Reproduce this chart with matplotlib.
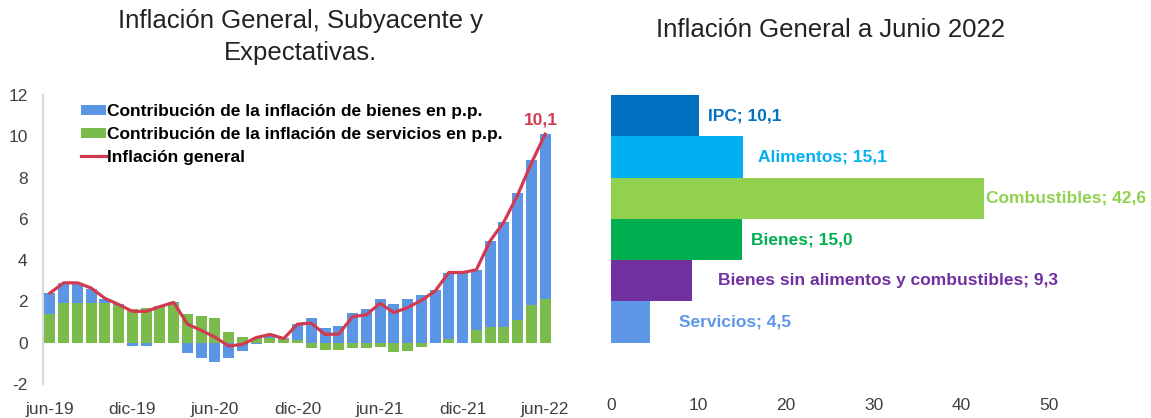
import numpy as np
import matplotlib.pyplot as plt

plt.rcParams['font.family'] = ['Liberation Sans', 'DejaVu Sans']
plt.rcParams['axes.unicode_minus'] = False

# Left chart: monthly contributions (p.p.) jun-19 .. jun-22
months = ['jun-19', 'jul-19', 'ago-19', 'sep-19', 'oct-19', 'nov-19', 'dic-19',
          'ene-20', 'feb-20', 'mar-20', 'abr-20', 'may-20', 'jun-20',
          'jul-20', 'ago-20', 'sep-20', 'oct-20', 'nov-20', 'dic-20',
          'ene-21', 'feb-21', 'mar-21', 'abr-21', 'may-21', 'jun-21',
          'jul-21', 'ago-21', 'sep-21', 'oct-21', 'nov-21', 'dic-21',
          'ene-22', 'feb-22', 'mar-22', 'abr-22', 'may-22', 'jun-22']
servicios = [1.38, 1.94, 1.94, 1.94, 1.91, 1.81, 1.65,
             1.70, 1.72, 1.91, 1.38, 1.31, 1.21,
             0.52, 0.30, 0.24, 0.24, 0.19, 0.13,
             -0.28, -0.36, -0.36, -0.24, -0.24, -0.21,
             -0.45, -0.40, -0.19, -0.03, 0.19, 0.00,
             0.61, 0.78, 0.78, 1.10, 1.81, 2.14]
bienes = [1.05, 0.97, 0.97, 0.68, 0.23, 0.05, -0.16,
          -0.16, 0.08, 0.06, -0.48, -0.73, -0.94,
          -0.73, -0.40, -0.08, 0.16, 0.02, 0.76,
          1.21, 0.73, 0.81, 1.46, 1.65, 2.10,
          1.86, 2.10, 2.30, 2.56, 3.21, 3.37,
          2.92, 4.15, 5.08, 6.15, 7.04, 7.96]
general = [2.40, 2.90, 2.90, 2.65, 2.15, 1.85, 1.52,
           1.52, 1.75, 1.95, 0.90, 0.60, 0.27,
           -0.16, -0.08, 0.25, 0.40, 0.20, 0.90,
           0.95, 0.40, 0.42, 1.26, 1.35, 1.91,
           1.46, 1.70, 2.05, 2.50, 3.40, 3.40,
           3.53, 4.93, 5.85, 7.15, 8.70, 10.1]
tick_months = ['jun-19', 'dic-19', 'jun-20', 'dic-20', 'jun-21', 'dic-21', 'jun-22']

# Right chart: June 2022 inflation by component
componentes = ['IPC', 'Alimentos', 'Combustibles', 'Bienes',
               'Bienes sin alimentos y combustibles', 'Servicios']
valores = [10.1, 15.1, 42.6, 15.0, 9.3, 4.5]
colores = ['#0070C0', '#00B0F0', '#92D050', '#00B050', '#7030A0', '#5E97E6']
label_dx = [1.0, 1.7, 0.2, 1.0, 2.9, 3.3]

c_blue = '#5B96E6'
c_green = '#7BBB4C'
c_red = '#D23A50'

fig = plt.figure(figsize=(11.51, 4.18), dpi=100)
W, H = 1151, 418

# ---- left chart
ax1 = fig.add_axes([43 / W, 34 / H, 509 / W, 289 / H])
x = np.arange(len(months))
serv = np.array(servicios)
bien = np.array(bienes)
bottom_b = np.where(np.sign(bien) == np.sign(serv), serv, 0)
b_serv = ax1.bar(x, serv, width=0.8, color=c_green, zorder=2)
b_bien = ax1.bar(x, bien, bottom=bottom_b, width=0.8, color=c_blue, zorder=2)
l_gen, = ax1.plot(x, general, color=c_red, lw=2.3, zorder=3)
ax1.annotate('10,1', (x[-1], general[-1]), xytext=(-3, 5), textcoords='offset points',
             ha='center', va='bottom', color=c_red, fontweight='bold', fontsize=12.5)

ax1.set_xlim(-0.5, len(months) - 0.5)
ax1.set_ylim(-2, 12)
ax1.set_yticks(range(-2, 13, 2))
ax1.set_xticks([months.index(m) for m in tick_months])
ax1.set_xticklabels(tick_months)
ax1.tick_params(axis='both', length=0, labelsize=12.5, colors='#404040')
ax1.tick_params(axis='y', pad=11)
ax1.tick_params(axis='x', pad=13)
for s in ['top', 'right', 'bottom']:
    ax1.spines[s].set_visible(False)
ax1.spines['left'].set_color('#d9d9d9')
ax1.spines['left'].set_linewidth(1.5)

ax1.legend([b_bien, b_serv, l_gen],
           ['Contribución de la inflación de bienes en p.p.',
            'Contribución de la inflación de servicios en p.p.',
            'Inflación general'],
           loc='upper left', bbox_to_anchor=(0.075, 0.969), frameon=False,
           handlelength=1.45, handleheight=0.5, handletextpad=0.05,
           labelspacing=0.45, borderpad=0, borderaxespad=0,
           prop={'weight': 'bold', 'size': 12.5})

fig.text(300 / W, 1 - 21 / H, 'Inflación General, Subyacente y', ha='center', va='center',
         fontsize=18.5, color='#222222')
fig.text(300 / W, 1 - 53 / H, 'Expectativas.', ha='center', va='center',
         fontsize=18.5, color='#222222')

# ---- right chart
ax2 = fig.add_axes([611 / W, 34 / H, 525 / W, 289 / H])
y = np.arange(len(componentes))
ax2.barh(y, valores, height=1.0, color=colores)
for yi, v, name, col, dx in zip(y, valores, componentes, colores, label_dx):
    ax2.text(v + dx, yi, f'{name}; {v:.1f}'.replace('.', ','), color=col,
             fontweight='bold', fontsize=12.5, va='center', ha='left', clip_on=False)
ax2.set_ylim(len(componentes) + 0.5, -0.5)
ax2.set_xlim(0, 60)
ax2.set_xticks(range(0, 60, 10))
ax2.set_yticks([])
ax2.tick_params(axis='x', length=0, labelsize=12.5, colors='#404040', pad=10)
for s in ax2.spines.values():
    s.set_visible(False)

fig.text(830 / W, 1 - 30 / H, 'Inflación General a Junio 2022', ha='center', va='center',
         fontsize=18.5, color='#222222')

fig.savefig('out.png', dpi=100)
